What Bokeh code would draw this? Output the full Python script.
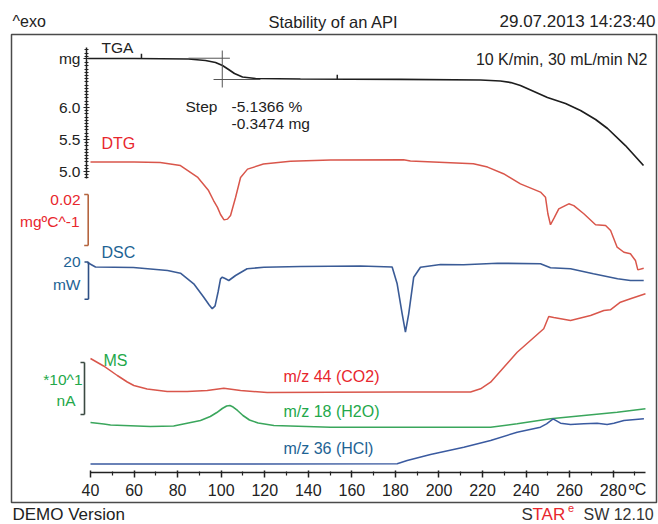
from bokeh.plotting import figure
from bokeh.models import Range1d, LinearAxis, FixedTicker, Label
from bokeh.embed import file_html
from bokeh.resources import INLINE

# ---------------- data ----------------
x_major = [40, 60, 80, 100, 120, 140, 160, 180, 200, 220, 240, 260, 280]
x_minor = [50, 70, 90, 110, 130, 150, 170, 190, 210, 230, 250, 270, 290]

# TGA, mg
tga_T = [38.9, 60.0, 85.0, 92.8, 97.4, 100.6, 103.4, 106.1, 109.8, 115.8, 136.4, 182.3,
         219.1, 228.2, 233.0, 237.4, 249.8, 258.1, 265.0, 271.9, 277.4, 285.6, 293.9]
tga_mg = [6.766, 6.766, 6.758, 6.734, 6.703, 6.656, 6.594, 6.531, 6.477, 6.453, 6.445, 6.441,
          6.430, 6.414, 6.390, 6.344, 6.156, 6.063, 5.953, 5.813, 5.672, 5.406, 5.094]
tga_ticks = [5.0, 5.5, 6.0, 6.766]
tga_tick_labels = ["5.0", "5.5", "6.0", "mg"]
tga_minor = [4.9, 4.95, 5.05, 5.1, 5.15, 5.2, 5.25, 5.3, 5.35, 5.4, 5.45, 5.55, 5.6, 5.65,
             5.7, 5.75, 5.8, 5.85, 5.9, 5.95, 6.05, 6.1, 6.15, 6.2, 6.25, 6.3, 6.35, 6.4,
             6.45, 6.5, 6.55, 6.6, 6.65, 6.7, 6.8, 6.85, 6.9]

# DTG, mg/°C
dtg_T = [40.0, 60.0, 72.0, 81.3, 89.1, 94.2, 96.5, 98.3, 99.7, 101.3, 102.9, 104.3, 106.6,
         108.9, 112.1, 119.4, 131.8, 150.2, 183.7, 186.9, 215.8, 222.3, 229.6, 237.4, 246.6,
         248.9, 250.0, 251.2, 253.0, 255.0, 259.6, 261.9, 266.5, 271.9, 276.5, 278.8, 281.8,
         284.9, 287.9, 290.2, 291.3, 294.0]
dtg_v = [0.0, 0.0, -0.0002, -0.0014, -0.0059, -0.0112, -0.0151, -0.0178, -0.0206, -0.0227,
         -0.0224, -0.0210, -0.0139, -0.0061, -0.0028, -0.0008, 0.0003, 0.0008, 0.0009, 0.0004,
         -0.0007, -0.0020, -0.0046, -0.0086, -0.0118, -0.0138, -0.0203, -0.0246, -0.0217,
         -0.0184, -0.0164, -0.0171, -0.0203, -0.0246, -0.0249, -0.0269, -0.0334, -0.0354,
         -0.0360, -0.0386, -0.0423, -0.0417]

# DSC, mW
dsc_T = [38.6, 42.3, 59.7, 75.4, 81.3, 87.4, 92.0, 94.5, 95.9, 97.2, 98.6, 99.7, 100.5, 101.8,
         103.5, 106.6, 111.9, 119.6, 136.4, 164.0, 178.5, 180.8, 183.1, 184.6, 186.1, 188.4,
         191.5, 200.7, 211.3, 226.9, 246.6, 251.2, 260.4, 270.9, 282.0, 287.9, 294.0]
dsc_v = [2.68, 0.27, 0.0, -1.61, -3.06, -8.74, -15.92, -20.10, -22.14, -20.60, -13.00, -6.06,
         -5.20, -5.90, -6.97, -4.29, -0.70, 0.16, 0.54, 0.80, 0.27, -8.74, -24.83, -34.69,
         -24.83, -5.20, 0.16, 1.61, 1.45, 2.31, 1.98, -0.16, -0.70, -3.38, -6.06, -6.97, -6.97]

# MS ion currents, nA
co2_T = [40.0, 46.0, 52.3, 56.9, 59.9, 66.0, 75.2, 84.4, 93.6, 101.2, 108.9, 121.1, 150.2,
         182.3, 214.5, 219.1, 223.7, 229.8, 235.9, 242.0, 248.1, 250.4, 252.7, 260.4, 269.6,
         275.7, 278.7, 283.3, 287.9, 294.8]
co2_v = [21.54, 20.10, 18.27, 17.02, 16.35, 15.67, 15.19, 15.19, 15.38, 15.83, 15.38, 15.00,
         15.06, 15.10, 15.10, 15.71, 16.98, 19.87, 22.75, 25.00, 27.25, 29.62, 29.42, 28.85,
         29.81, 30.77, 30.90, 32.37, 33.02, 33.98]
h2o_T = [40.0, 46.1, 49.2, 67.5, 78.2, 90.5, 95.0, 98.0, 100.5, 102.5, 104.0, 105.5, 107.5,
         110.0, 113.0, 117.0, 124.2, 150.2, 223.7, 235.9, 251.2, 266.5, 281.8, 294.8]
h2o_v = [9.23, 8.94, 8.75, 8.46, 8.56, 9.62, 10.38, 11.15, 11.92, 12.40, 12.50, 12.21, 11.54,
         10.58, 9.71, 9.13, 8.65, 8.33, 8.33, 8.98, 9.94, 10.58, 11.21, 11.87]
hcl_T = [40.0, 180.8, 185.4, 196.1, 211.4, 223.7, 235.9, 246.6, 249.4, 252.4, 255.8, 260.4,
         266.5, 272.6, 277.2, 280.3, 284.9, 294.1]
hcl_v = [1.25, 1.29, 1.92, 3.08, 4.48, 5.77, 7.37, 8.33, 8.98, 9.94, 9.10, 8.85, 8.98, 9.10,
         8.85, 9.10, 9.62, 9.94]

# ---------------- styling ----------------
FONT = "Liberation Sans"
INK = "#222222"
RED_T = "#e8262d"
BLUE_T = "#1d6394"
GREEN_T = "#23a84a"

p = figure(width=658, height=524, output_backend="svg", toolbar_location=None,
           x_axis_type=None, y_axis_type=None,
           x_range=Range1d(-1.322, 300.790), y_range=Range1d(524, 0),
           min_border=0, outline_line_color=None)
p.background_fill_color = "white"
p.border_fill_color = "white"
p.extra_x_ranges = {"px": Range1d(0, 658)}
p.extra_y_ranges = {
    "tga": Range1d(-0.515625, 7.671875),
    "dtg": Range1d(-0.142157, 0.063333),
    "dsc": Range1d(-137.80, 143.16),
    "ms": Range1d(-10.3846, 90.3846),
}

# outer frame
p.quad(left=11, right=656, top=34, bottom=502, fill_color=None, line_color="#4a4a4a",
       line_width=1.5, x_range_name="px")

# curves
p.line(tga_T, tga_mg, y_range_name="tga", line_color="#1e1e1e", line_width=1.7)
p.line(dtg_T, dtg_v, y_range_name="dtg", line_color="#d9564b", line_width=1.5)
p.line(dsc_T, dsc_v, y_range_name="dsc", line_color="#3a5b96", line_width=1.6)
p.line(co2_T, co2_v, y_range_name="ms", line_color="#d9564b", line_width=1.5)
p.line(h2o_T, h2o_v, y_range_name="ms", line_color="#3aa65c", line_width=1.6)
p.line(hcl_T, hcl_v, y_range_name="ms", line_color="#3a5aa0", line_width=1.5)

# step evaluation construction lines (TGA)
p.segment(x0=[85.0, 100.5, 96.5], y0=[6.77, 6.89, 6.4375],
          x1=[104.0, 100.5, 118.0], y1=[6.77, 6.3125, 6.4375],
          y_range_name="tga", line_color="#555555", line_width=1)
# evaluation limit markers
p.segment(x0=[63.4, 153.3], y0=[6.766, 6.441], x1=[63.4, 153.3], y1=[6.84, 6.51],
          y_range_name="tga", line_color="#222222", line_width=1.5)

# scale brackets "]"
def bracket(x, top, bottom, rng, color):
    p.segment(x0=[x, x - 4, x - 4], y0=[top, top, bottom], x1=[x, x, x], y1=[bottom, top, bottom],
              x_range_name="px", y_range_name=rng, line_color=color, line_width=1.6)

bracket(87.7, -0.012745, -0.032745, "dtg", "#b5653f")
bracket(88.0, 2.95, -17.05, "dsc", "#2d4f85")
bracket(84.0, 20.77, 10.77, "ms", "#3b4a42")

# TGA axis
tga_axis = LinearAxis(y_range_name="tga", x_range_name="px", fixed_location=86,
                      ticker=FixedTicker(ticks=tga_ticks, minor_ticks=tga_minor),
                      bounds=(4.89, 6.94),
                      major_label_overrides=dict(zip(tga_ticks, tga_tick_labels)),
                      axis_line_color="#222222", axis_line_width=1.5,
                      major_tick_in=3, major_tick_out=3, minor_tick_in=2, minor_tick_out=2,
                      major_tick_line_color="#222222", minor_tick_line_color="#222222",
                      major_label_standoff=3,
                      major_label_text_font=FONT, major_label_text_font_size="15.5px",
                      major_label_text_color=INK)
p.add_layout(tga_axis, "left")

# temperature axis
t_axis = LinearAxis(fixed_location=472,
                    ticker=FixedTicker(ticks=x_major, minor_ticks=x_minor),
                    bounds=(40, 295),
                    axis_line_color="#222222", axis_line_width=1.5,
                    major_tick_in=2, major_tick_out=5, minor_tick_in=1, minor_tick_out=3,
                    major_tick_line_color="#222222", minor_tick_line_color="#222222",
                    major_tick_line_width=1.5, minor_tick_line_width=1.2,
                    major_label_standoff=6,
                    major_label_text_font=FONT, major_label_text_font_size="16px",
                    major_label_text_color=INK)
p.add_layout(t_axis, "below")

# texts (y = visual middle of the text)
def txt(x, y, s, color=INK, size="16px", align="left"):
    p.add_layout(Label(x=x, y=y, text=s, x_range_name="px", text_font=FONT,
                       text_font_size=size, text_color=color, text_align=align,
                       text_baseline="middle"))

txt(12, 21, "^exo")
txt(333, 21.5, "Stability of an API", size="16.5px", align="center")
txt(655, 21, "29.07.2013 14:23:40", size="17px", align="right")
txt(647, 59, "10 K/min, 30 mL/min N2", align="right")
txt(101, 46.5, "TGA", size="15.5px")
txt(185, 106, "Step", size="15.5px")
txt(231, 106, "-5.1366 %", size="15.5px")
txt(231, 122.5, "-0.3474 mg", size="15.5px")
txt(101, 142.5, "DTG", color=RED_T)
txt(80, 199.5, "0.02", color=RED_T, size="15.5px", align="right")
txt(79, 221, "mgºC^-1", color=RED_T, size="15.5px", align="right")
txt(101, 252, "DSC", color=BLUE_T)
txt(80, 261.5, "20", color=BLUE_T, size="15.5px", align="right")
txt(80, 283.5, "mW", color=BLUE_T, size="15.5px", align="right")
txt(103, 360, "MS", color=GREEN_T)
txt(82, 379, "*10^1", color=GREEN_T, size="15.5px", align="right")
txt(75, 400, "nA", color=GREEN_T, size="15.5px", align="right")
txt(283, 376, "m/z 44 (CO2)", color=RED_T)
txt(283, 411, "m/z 18 (H2O)", color=GREEN_T)
txt(283, 448, "m/z 36 (HCl)", color=BLUE_T)
txt(637, 489, "ºC", align="center")
txt(12, 514, "DEMO Version", size="17px")
txt(521, 514, "S", color="#333333", size="17px")
txt(532, 514, "TAR", color=RED_T, size="17px")
txt(567.5, 507, "e", color=RED_T, size="11px")
txt(583, 514, "SW 12.10", color="#333333", size="16px")

open("out.html", "w").write(file_html(p, INLINE))
